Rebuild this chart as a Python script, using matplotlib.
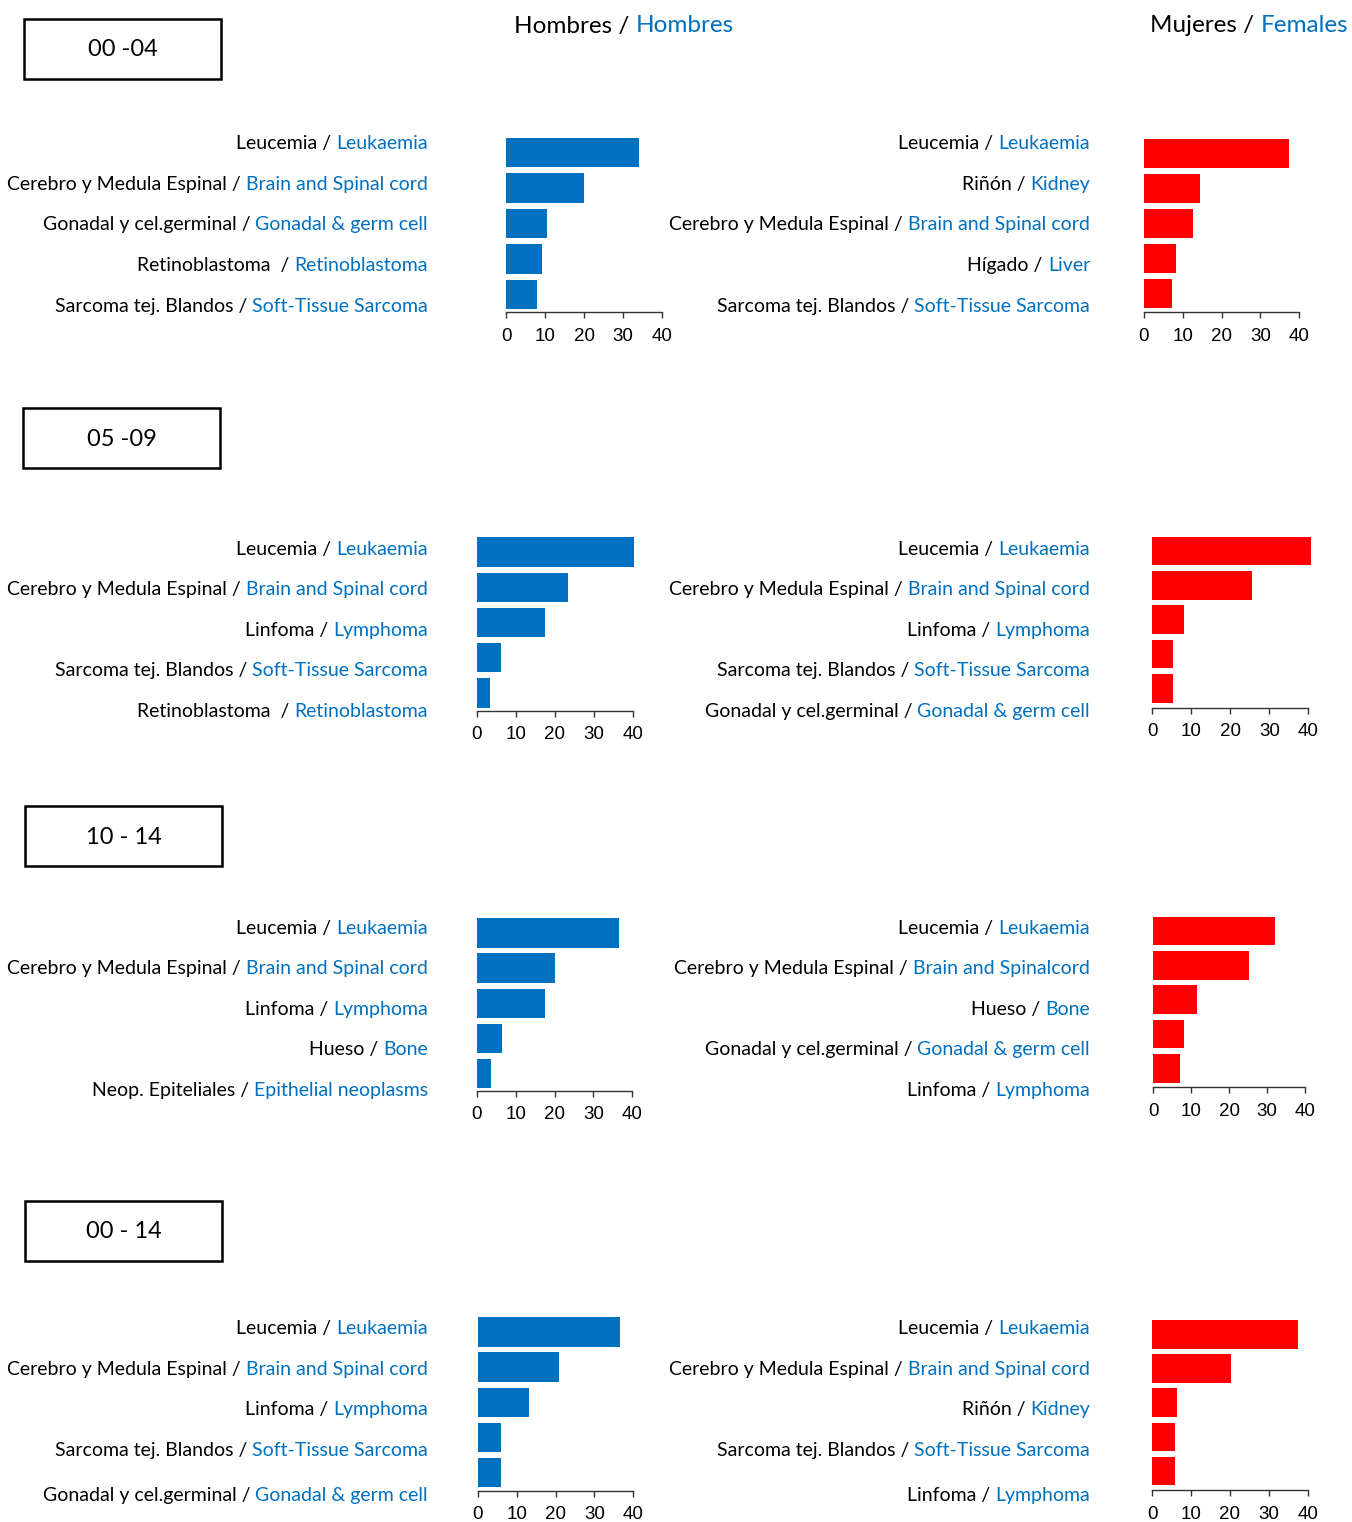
import matplotlib
matplotlib.use("Agg")
import matplotlib.pyplot as plt
from matplotlib.patches import Rectangle

W, H = 1352, 1522
BLUE = "#0070C0"
RED = "#FF0000"
LABEL_FONT = "Lato"
TICK_FONT = "Liberation Sans"

# age groups (boxes)
age_groups = ["00 -04", "05 -09", "10 - 14", "00 - 14"]

# men: Spanish / English labels and values
male_es = [
    ["Leucemia", "Cerebro y Medula Espinal", "Gonadal y cel.germinal", "Retinoblastoma ", "Sarcoma tej. Blandos"],
    ["Leucemia", "Cerebro y Medula Espinal", "Linfoma", "Sarcoma tej. Blandos", "Retinoblastoma "],
    ["Leucemia", "Cerebro y Medula Espinal", "Linfoma", "Hueso", "Neop. Epiteliales"],
    ["Leucemia", "Cerebro y Medula Espinal", "Linfoma", "Sarcoma tej. Blandos", "Gonadal y cel.germinal"],
]
male_en = [
    ["Leukaemia", "Brain and Spinal cord", "Gonadal & germ cell", "Retinoblastoma", "Soft-Tissue Sarcoma"],
    ["Leukaemia", "Brain and Spinal cord", "Lymphoma", "Soft-Tissue Sarcoma", "Retinoblastoma"],
    ["Leukaemia", "Brain and Spinal cord", "Lymphoma", "Bone", "Epithelial neoplasms"],
    ["Leukaemia", "Brain and Spinal cord", "Lymphoma", "Soft-Tissue Sarcoma", "Gonadal & germ cell"],
]
male_vals = [
    [34.2, 19.9, 10.5, 9.1, 7.8],
    [40.3, 23.3, 17.4, 6.3, 3.4],
    [36.6, 20.2, 17.6, 6.4, 3.8],
    [36.7, 21.0, 13.3, 5.9, 5.9],
]

# women: Spanish / English labels and values
female_es = [
    ["Leucemia", "Riñón", "Cerebro y Medula Espinal", "Hígado", "Sarcoma tej. Blandos"],
    ["Leucemia", "Cerebro y Medula Espinal", "Linfoma", "Sarcoma tej. Blandos", "Gonadal y cel.germinal"],
    ["Leucemia", "Cerebro y Medula Espinal", "Hueso", "Gonadal y cel.germinal", "Linfoma"],
    ["Leucemia", "Cerebro y Medula Espinal", "Riñón", "Sarcoma tej. Blandos", "Linfoma"],
]
female_en = [
    ["Leukaemia", "Kidney", "Brain and Spinal cord", "Liver", "Soft-Tissue Sarcoma"],
    ["Leukaemia", "Brain and Spinal cord", "Lymphoma", "Soft-Tissue Sarcoma", "Gonadal & germ cell"],
    ["Leukaemia", "Brain and Spinalcord", "Bone", "Gonadal & germ cell", "Lymphoma"],
    ["Leukaemia", "Brain and Spinal cord", "Kidney", "Soft-Tissue Sarcoma", "Lymphoma"],
]
female_vals = [
    [37.3, 14.6, 12.8, 8.2, 7.4],
    [40.7, 25.6, 8.1, 5.4, 5.4],
    [32.2, 25.4, 11.6, 8.1, 7.0],
    [37.4, 20.3, 6.3, 5.9, 5.9],
]

ticks = [0, 10, 20, 30, 40]

# layout in pixels: (x at 0, x at 40, bar top, bar bottom, axis y)
male_box = [(506.3, 662.0, 137.7, 309.3, 312.3),
            (476.7, 632.7, 537.3, 707.7, 710.7),
            (476.7, 632.3, 918.3, 1088.3, 1091.0),
            (477.7, 633.3, 1317.3, 1487.3, 1490.7)]
female_box = [(1143.7, 1299.3, 139.0, 307.7, 312.3),
              (1152.3, 1308.3, 536.7, 702.7, 707.7),
              (1153.3, 1304.7, 916.7, 1082.7, 1087.3),
              (1152.0, 1308.0, 1320.0, 1485.3, 1490.3)]
label_rows = [[142, 183, 223, 264, 305],
              [548, 588, 629, 669, 710],
              [927, 967, 1008, 1048, 1089],
              [1327, 1368, 1408, 1449, 1494]]
group_boxes = [(24, 19, 221, 79), (23, 408, 220, 468), (25, 806, 222, 866), (25, 1201, 222, 1261)]

fig = plt.figure(figsize=(W / 100, H / 100), dpi=100)
renderer = fig.canvas.get_renderer()


def fx(x):
    return x / W


def fy(y):
    return 1 - y / H


def two_tone(x, y, black, blue, size=14):
    # blue part right aligned, black part placed just before it (same baseline)
    yb = fy(y + 7)
    t = fig.text(fx(x), yb, blue, color=BLUE, ha="right", va="baseline",
                 fontsize=size, family=LABEL_FONT)
    bb = t.get_window_extent(renderer)
    fig.text(bb.x0 / W, yb, black, color="black", ha="right", va="baseline",
             fontsize=size, family=LABEL_FONT)


def two_tone_left(x, y, black, blue, size=17.5):
    yb = fy(y + 8.5)
    t = fig.text(fx(x), yb, black, color="black", ha="left", va="baseline",
                 fontsize=size, family=LABEL_FONT)
    bb = t.get_window_extent(renderer)
    fig.text(bb.x1 / W, yb, blue, color=BLUE, ha="left", va="baseline",
             fontsize=size, family=LABEL_FONT)


def bar_panel(box, vals, color):
    x0, x40, top, bot, axy = box
    unit = (bot - top) / 5.8
    ylow = 0.2 - (axy - bot) / unit
    ax = fig.add_axes([fx(x0), fy(axy), (x40 - x0) / W, (axy - top) / H])
    pos = [6.0 - 0.5 - 1.2 * i for i in range(5)]
    ax.barh(pos, vals, height=1.0, color=color, linewidth=0, clip_on=False)
    ax.set_xlim(0, 40)
    ax.set_ylim(ylow, 6.0)
    for s in ["top", "right", "left"]:
        ax.spines[s].set_visible(False)
    ax.spines["bottom"].set_color("#333333")
    ax.spines["bottom"].set_linewidth(1.0)
    ax.set_yticks([])
    ax.set_xticks(ticks)
    ax.tick_params(axis="x", length=4, width=1, color="#333333", pad=7,
                   labelsize=13.5)
    for lab in ax.get_xticklabels():
        lab.set_family(TICK_FONT)
    ax.patch.set_visible(False)
    return ax


for g in range(4):
    # age box
    bx0, by0, bx1, by1 = group_boxes[g]
    fig.patches.append(Rectangle((fx(bx0), fy(by1)), (bx1 - bx0) / W, (by1 - by0) / H,
                                 transform=fig.transFigure, fill=False,
                                 edgecolor="black", linewidth=1.8))
    fig.text(fx((bx0 + bx1) / 2), fy((by0 + by1) / 2 + 1), age_groups[g], ha="center",
             va="center", fontsize=17, family=LABEL_FONT)

    bar_panel(male_box[g], male_vals[g], BLUE)
    bar_panel(female_box[g], female_vals[g], RED)

    for i in range(5):
        two_tone(428, label_rows[g][i], male_es[g][i] + " / ", male_en[g][i])
        two_tone(1090, label_rows[g][i], female_es[g][i] + " / ", female_en[g][i])

two_tone_left(514, 24, "Hombres / ", "Hombres")
two_tone_left(1150, 24, "Mujeres / ", "Females")

fig.savefig("out.png", dpi=100)
